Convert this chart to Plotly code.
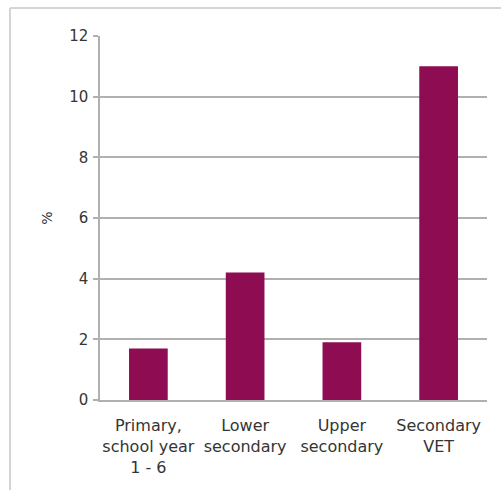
import plotly.graph_objects as go

categories = ["Primary,<br>school year<br>1 - 6", "Lower<br>secondary", "Upper<br>secondary", "Secondary<br>VET"]
values = [1.7, 4.2, 1.9, 11.0]
y_ticks = [0, 2, 4, 6, 8, 10, 12]

W, H = 501, 490
L, R, T, B = 100, 14, 36, 90
pw, ph = W - L - R, H - T - B

def px(x):
    return (x - L) / pw

def py(y):
    return (H - B - y) / ph

fig = go.Figure(go.Bar(
    x=categories, y=values, marker_color="#8e0c52",
    marker_line_width=0, width=0.4,
))

font_col = "#353535"
fig.update_layout(
    width=W, height=H, margin=dict(l=L, r=R, t=T, b=B),
    plot_bgcolor="white", paper_bgcolor="white",
    font=dict(family="DejaVu Sans", size=14, color=font_col),
    showlegend=False,
    bargap=0.6,
    shapes=[
        dict(type="line", xref="paper", yref="paper", x0=px(10), x1=px(10), y0=py(8), y1=py(495),
             line=dict(color="#d4d4d4", width=2)),
        dict(type="line", xref="paper", yref="paper", x0=px(10), x1=px(505), y0=py(8), y1=py(8),
             line=dict(color="#d4d4d4", width=2)),
    ],
)
fig.update_yaxes(
    range=[0, 12], tickvals=y_ticks, showgrid=True, gridcolor="#b0b0b0", gridwidth=1.5,
    showline=True, linecolor="#b0b0b0", linewidth=1.5, ticks="outside", ticklen=5,
    tickcolor="#b0b0b0", tickwidth=1.5, zeroline=False,
    title=dict(text="%", standoff=13, font=dict(size=14)),
    tickfont=dict(size=15, color=font_col), ticklabelstandoff=2,
)
fig.update_xaxes(
    showline=True, linecolor="#b0b0b0", linewidth=1.5, ticks="",
    tickfont=dict(size=16, color=font_col), tickangle=0, ticklabelstandoff=10,
)
fig.write_html("out.html")
